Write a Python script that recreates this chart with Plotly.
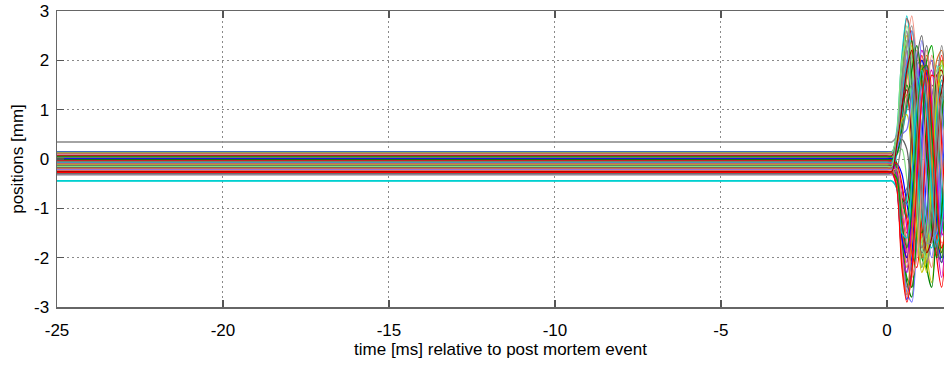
import plotly.graph_objects as go

# ---- data ----
t_start = -25.0
t_event = [0.0, 0.15]
t_post = [0.3, 0.45, 0.6, 0.75, 0.9, 1.05, 1.2, 1.35, 1.5, 1.65, 1.8]

offsets = [0.35, 0.15, 0.13, 0.12, 0.11, 0.10, 0.09, 0.08, 0.07, 0.06, 0.05, 0.04,
           0.03, 0.02, 0.01, 0.0, -0.01, -0.02, -0.03, -0.05, -0.06, -0.07, -0.08, -0.10,
           -0.11, -0.12, -0.14, -0.16, -0.18, -0.20, -0.22, -0.24, -0.26, -0.30, -0.45, -0.17,
           0.14, 0.115, 0.095, 0.085, 0.065, 0.045, 0.025, 0.005, -0.015, -0.04, -0.065, -0.09,
           -0.105, -0.13, -0.15, -0.19, -0.21, -0.23, -0.25, -0.28, -0.32, -0.44, 0.34, -0.27]

post_values = [
    [0.45, 1.0, 1.7, 1.2, 0.1, -0.7, 0.2, 1.3, 0.9, -0.3, 0.4],
    [0.35, 1.3, 2.2, 1.1, -0.9, -1.6, -0.3, 1.2, 1.7, 0.5, -0.7],
    [-0.1, -1.3, -2.5, -2.8, -1.3, 0.6, 1.6, 0.9, -0.6, -1.4, -0.5],
    [0.5, 1.9, 2.85, 2.4, 0.6, -1.3, -2.1, -0.7, 1.3, 2.1, 1.1],
    [0.6, 2.1, 2.9, 1.9, -0.2, -1.7, -1.0, 0.8, 1.9, 1.2, -0.4],
    [-0.2, -1.2, -2.1, -1.3, 0.9, 2.2, 1.9, 0.3, -1.6, -2.4, -1.1],
    [0.2, 0.9, 1.6, 2.3, 1.5, -0.2, -1.9, -2.5, -1.3, 0.7, 1.7],
    [0.1, 0.4, 0.2, -0.8, -1.6, -1.0, 0.4, 1.5, 1.3, 0.1, -1.0],
    [-0.3, -1.0, -1.6, -0.7, 0.8, 1.7, 1.1, -0.4, -1.6, -1.2, 0.3],
    [0.3, 1.4, 2.0, 0.8, -1.0, -2.0, -1.4, 0.2, 1.5, 1.9, 0.8],
    [-0.4, -1.7, -2.3, -1.0, 1.1, 2.4, 1.6, -0.3, -1.8, -1.5, 0.2],
    [0.2, 0.6, 1.3, 2.0, 2.2, 1.0, -0.6, -1.7, -1.4, 0.0, 1.3],
    [-0.3, -0.9, -1.8, -2.6, -1.7, 0.2, 1.7, 2.0, 0.8, -0.9, -1.8],
    [0.4, 1.6, 2.4, 1.4, -0.5, -2.0, -2.2, -0.8, 1.0, 2.0, 1.4],
    [-0.2, -0.7, -0.6, 0.6, 1.9, 2.0, 0.7, -1.0, -1.9, -1.0, 0.6],
    [-0.5, -2.0, -2.85, -2.0, 0.0, 1.5, 1.3, -0.2, -1.5, -1.3, 0.1],
    [0.3, 1.1, 1.9, 2.4, 1.3, -0.8, -2.2, -2.6, -1.2, 0.8, 1.9],
    [-0.3, -1.1, -1.5, -0.4, 1.2, 2.1, 1.4, -0.4, -2.0, -2.6, -1.4],
    [0.1, 0.5, 1.0, 1.4, 0.6, -0.9, -1.7, -0.9, 0.6, 1.5, 1.0],
    [-0.2, -0.6, -1.4, -2.1, -1.5, 0.0, 1.4, 1.8, 0.6, -1.0, -1.7],
    [0.4, 1.5, 2.5, 2.1, 0.2, -1.6, -2.3, -1.2, 0.7, 1.8, 1.3],
    [-0.4, -1.5, -2.6, -2.2, -0.3, 1.6, 2.3, 1.1, -0.8, -2.0, -1.5],
    [0.1, 0.2, -0.4, -1.3, -1.0, 0.5, 1.6, 1.3, -0.1, -1.3, -1.1],
    [0.3, 1.0, 1.3, 0.4, -1.1, -2.0, -1.2, 0.6, 2.0, 2.2, 0.9],
    [-0.5, -1.8, -2.7, -2.9, -1.6, 0.3, 1.8, 2.0, 0.7, -1.1, -2.0],
    [0.3, 1.2, 2.3, 2.9, 1.9, -0.1, -1.8, -2.2, -0.9, 1.0, 2.0],
    [-0.3, -0.8, -0.9, 0.3, 1.6, 1.7, 0.5, -1.1, -1.8, -0.8, 0.7],
    [-0.4, -1.6, -2.4, -2.6, -1.4, 0.5, 2.0, 2.3, 1.0, -0.9, -2.2],
    [0.2, 0.7, 1.7, 2.1, 0.9, -1.0, -2.1, -1.5, 0.3, 1.6, 1.4],
    [-0.1, -0.3, -0.9, -1.4, -0.8, 0.5, 1.2, 0.6, -0.6, -1.2, -0.5],
    [0.2, 0.8, 1.5, 1.0, -0.4, -1.5, -1.1, 0.4, 1.5, 1.2, -0.2],
    [-0.5, -1.4, -2.0, -1.2, 0.4, 1.6, 1.2, -0.3, -1.6, -1.8, -0.6],
    [0.1, 0.9, 1.9, 2.6, 1.7, -0.2, -1.6, -1.8, -0.4, 1.1, 1.8],
    [-0.6, -1.9, -2.3, -1.1, 0.8, 1.9, 1.3, -0.4, -1.7, -1.4, 0.0],
    [-0.6, -1.2, -0.8, 0.5, 1.6, 1.4, 0.0, -1.4, -1.8, -0.7, 0.8],
    [0.4, 1.7, 2.6, 1.6, -0.4, -1.9, -1.7, -0.1, 1.4, 1.7, 0.5],
    [0.5, 1.8, 2.7, 2.0, 0.0, -1.8, -2.0, -0.5, 1.2, 1.9, 0.9],
    [-0.3, -1.4, -2.2, -1.6, 0.3, 1.8, 2.1, 0.9, -0.9, -1.9, -1.2],
    [0.2, 1.0, 2.0, 2.6, 2.0, 0.4, -1.3, -2.0, -1.1, 0.5, 1.6],
    [-0.4, -1.9, -2.8, -2.4, -0.6, 1.3, 2.2, 1.4, -0.4, -1.7, -1.6],
    [0.3, 1.1, 1.4, 0.3, -1.3, -2.2, -1.5, 0.3, 1.7, 1.8, 0.5],
    [-0.2, -0.8, -1.2, -0.3, 1.0, 1.9, 1.5, 0.0, -1.4, -2.0, -1.0],
    [0.4, 1.6, 2.2, 1.2, -0.6, -1.8, -1.5, 0.0, 1.5, 2.3, 1.5],
    [-0.5, -1.6, -2.0, -0.9, 0.9, 2.0, 1.7, 0.2, -1.3, -2.1, -1.6],
    [0.1, 0.6, 1.1, 1.8, 2.3, 1.6, 0.0, -1.4, -2.0, -1.1, 0.6],
    [-0.1, -0.5, -1.2, -1.9, -2.2, -1.2, 0.5, 1.7, 1.6, 0.3, -1.2],
    [0.3, 1.3, 1.9, 1.3, 0.0, -1.2, -1.6, -0.6, 0.9, 1.6, 1.0],
    [-0.3, -1.2, -1.9, -1.5, -0.2, 1.2, 1.9, 1.2, -0.3, -1.5, -1.6],
    [0.2, 0.8, 0.9, 0.0, -1.4, -2.3, -1.9, -0.4, 1.2, 2.0, 1.3],
    [-0.4, -1.0, -0.7, 0.6, 2.0, 2.5, 1.4, -0.4, -1.8, -2.1, -0.8],
    [0.5, 2.0, 2.4, 1.0, -1.0, -2.2, -1.6, 0.2, 1.8, 1.9, 0.4],
    [-0.5, -2.1, -2.75, -1.6, 0.5, 1.9, 1.6, 0.0, -1.5, -1.9, -0.7],
    [0.2, 0.5, 0.6, 1.3, 1.8, 1.1, -0.4, -1.6, -1.5, -0.2, 1.1],
    [-0.2, -0.9, -1.7, -2.4, -2.0, -0.5, 1.2, 2.1, 1.5, -0.1, -1.4],
    [0.3, 1.0, 1.8, 2.2, 1.1, -0.7, -1.9, -1.6, -0.1, 1.4, 1.9],
    [-0.4, -1.3, -1.8, -1.0, 0.6, 1.8, 1.9, 0.6, -1.0, -1.9, -1.2],
    [-0.2, 0.4, 1.2, 1.5, 0.6, -0.8, -1.6, -1.0, 0.4, 1.3, 1.0],
    [-0.6, -1.5, -1.6, -0.4, 1.1, 1.8, 1.0, -0.6, -1.7, -1.3, 0.2],
    [0.5, 1.4, 2.3, 2.7, 1.5, -0.4, -1.7, -1.7, -0.3, 1.2, 1.8],
    [-0.6, -2.2, -2.9, -2.3, -0.5, 1.2, 1.8, 0.9, -0.7, -1.8, -1.4],
]

x_ticks = [-25, -20, -15, -10, -5, 0]
y_ticks = [-3, -2, -1, 0, 1, 2, 3]

# ---- styles ----
palette = ["#808080", "#0000ff", "#008000", "#ff0000", "#00c8c8", "#c800c8",
           "#c8c800", "#606060", "#80e080", "#e07020", "#7070ff", "#f09080",
           "#a00000", "#00a000"]

fig = go.Figure()
for i, (off, vals) in enumerate(zip(offsets, post_values)):
    color = palette[i % len(palette)]
    if off <= -0.44:
        color = "#00d0d0"
    if off >= 0.34:
        color = "#909090"
    fig.add_trace(go.Scatter(
        x=[t_start] + t_event + t_post,
        y=[off] * (1 + len(t_event)) + vals,
        mode="lines",
        line=dict(color=color, width=1.2, shape="spline", smoothing=0.8),
        showlegend=False,
        hoverinfo="skip",
    ))

font_family = "Liberation Sans, Arial, sans-serif"
tick_font = dict(family=font_family, size=17, color="#000000")
title_font = dict(family=font_family, size=17, color="#000000")

fig.update_layout(
    width=944, height=366,
    margin=dict(l=57, r=0, t=11, b=59),
    paper_bgcolor="white",
    plot_bgcolor="white",
    font=tick_font,
    xaxis=dict(
        range=[-25, 1.72],
        automargin=False,
        tickvals=x_ticks,
        ticktext=[str(v) for v in x_ticks],
        showgrid=True, gridcolor="#8a8a8a", griddash="2px,3px", gridwidth=1,
        zeroline=False,
        showline=True, linecolor="#666666", linewidth=1.5, mirror="ticks",
        ticks="inside", ticklen=7, tickcolor="#555555", tickwidth=1.5,
        ticklabelstandoff=7,
        title=dict(text="time [ms] relative to post mortem event", standoff=4, font=title_font),
        tickfont=tick_font,
    ),
    yaxis=dict(
        range=[-3, 3],
        automargin=False,
        tickvals=y_ticks,
        ticktext=[str(v) for v in y_ticks],
        showgrid=True, gridcolor="#8a8a8a", griddash="2px,3px", gridwidth=1,
        zeroline=False,
        showline=True, linecolor="#666666", linewidth=1.5,
        ticks="inside", ticklen=7, tickcolor="#555555", tickwidth=1.5,
        ticklabelstandoff=3,
        title=dict(text="positions [mm]", standoff=6, font=title_font),
        tickfont=tick_font,
    ),
)

fig.write_html(
    "out.html",
    config={"displayModeBar": False, "staticPlot": True},
    post_script="document.body.style.margin='0';document.body.style.overflow='hidden';",
)
